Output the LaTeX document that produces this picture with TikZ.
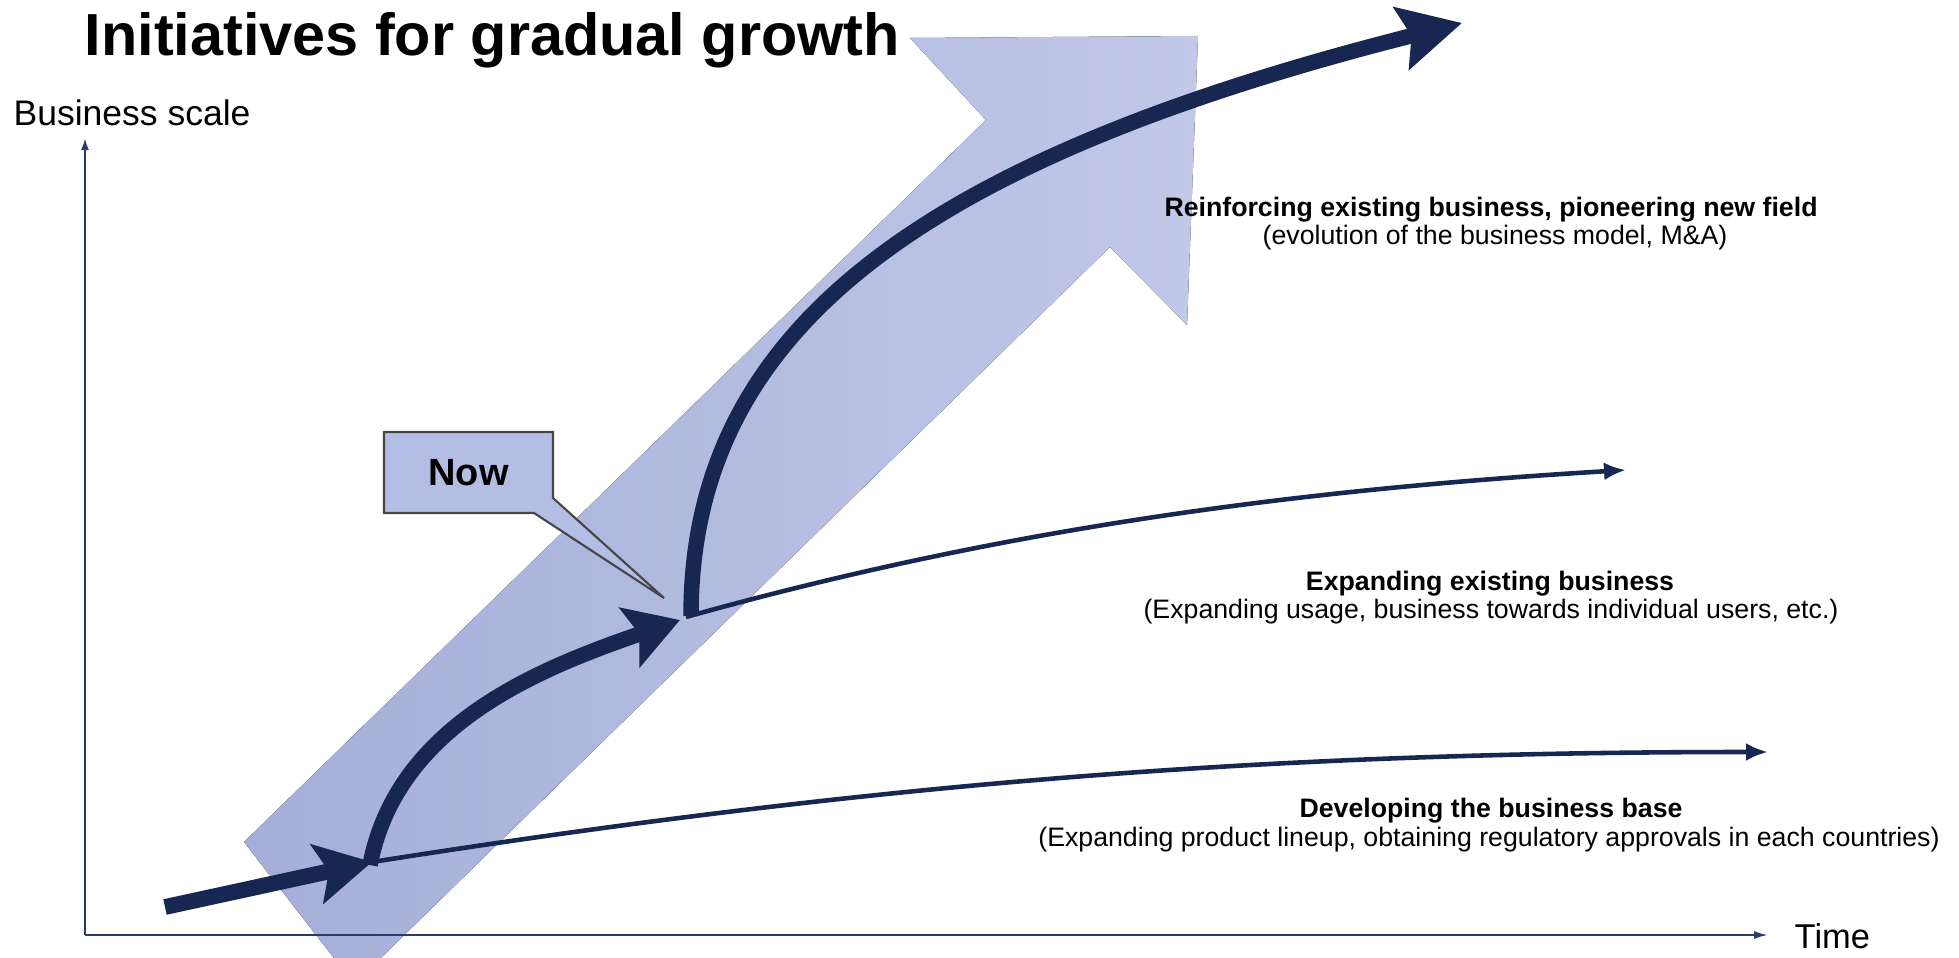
\documentclass[tikz,border=0pt]{standalone}
\usepackage{fontspec}
\setmainfont{Liberation Sans}
\usetikzlibrary{arrows.meta,calc}
\definecolor{navy}{RGB}{24,38,82}
\definecolor{axisc}{RGB}{46,58,105}
\definecolor{lightA}{RGB}{164,174,216}
\definecolor{lightB}{RGB}{193,200,232}
\definecolor{nowfill}{RGB}{180,189,227}
\definecolor{callborder}{RGB}{70,70,70}
\begin{document}
\begin{tikzpicture}[x=0.1mm,y=-0.1mm,
  axisline/.style={draw=axisc,line width=0.6pt},
  thinline/.style={draw=navy,line width=1.3pt,-{Latex[length=2.2mm,width=1.8mm]}},
  growth/.style={draw=navy,line width=4.4pt},
  lbl/.style={font=\fontsize{7.6}{9}\selectfont,anchor=base,inner sep=0pt},
  lblb/.style={lbl,font=\fontsize{7.6}{9}\selectfont\bfseries},
  axlab/.style={anchor=base west,inner sep=0pt,font=\fontsize{10.1}{12}\selectfont},
  callout/.style={fill=nowfill,draw=callborder,line width=0.6pt,line join=miter}
]
\useasboundingbox (0,0) rectangle (1959,958);

% big light arrow
\fill[left color=lightA,right color=lightB] (1198,36) -- (910,38) -- (986,120) -- (244,842) -- (354,984) -- (1110,247) -- (1187,325) -- cycle;

% axes
\coordinate (O) at (85,935);
\coordinate (ytop) at (85,138);
\coordinate (xend) at (1768,935);
\draw[axisline,-{Latex[length=1.2mm,width=0.8mm]}] (O) -- (ytop);
\draw[axisline,-{Latex[length=1.4mm,width=0.8mm]}] (O) -- (xend);
\node[axlab] (ylab) at (13,126) {Business scale};
\node[axlab,font=\fontsize{9.8}{12}\selectfont] (xlab) at (1794,948) {Time};

% title
\node[anchor=base west,inner sep=0pt,font=\fontsize{16.9}{20}\selectfont\bfseries] (title) at (84,56) {Initiatives for gradual growth};

% key points
\coordinate (s0) at (165,907);
\coordinate (j1) at (372,862);
\coordinate (j1b) at (370,865);
\coordinate (j2) at (680,620);
\coordinate (j2b) at (691,616);
\coordinate (j2c) at (686,617);
\coordinate (e1) at (1768,752);
\coordinate (e2) at (1626,470);
\coordinate (e3) at (1462,23);

% thin growth lines
\draw[thinline] (j1) .. controls (874,783) and (1268,752) .. (e1);
\draw[thinline] (j2c) .. controls (986,533) and (1276,491) .. (e2);

% Now callout
\coordinate (nowc) at (468.5,472.5);
\coordinate (nowtip) at (664,598);
\filldraw[callout] ($(nowc)+(-84.5,-40.5)$) -- ($(nowc)+(84.5,-40.5)$) -- ($(nowc)+(84.5,25.5)$) -- (nowtip) -- ($(nowc)+(65.5,40.5)$) -- ($(nowc)+(-84.5,40.5)$) -- cycle;
\node[inner sep=0pt,font=\fontsize{10.8}{13}\selectfont\bfseries] (now) at (nowc) {Now};

% thick dark arrows
\draw[growth,line width=4.5pt,-{Stealth[length=5.6mm,width=6mm,inset=1.2mm]}] (s0) -- (j1);
\draw[growth,-{Stealth[length=5.3mm,width=6.2mm,inset=1mm]}] (j1b) .. controls (397,725) and (538,669) .. (j2);
\draw[growth,-{Stealth[length=6.2mm,width=6.3mm,inset=1mm]}] (j2b) .. controls (691,330) and (920,160) .. (e3);

% labels
\node[lblb] (l3a) at (1491,217) {Reinforcing existing business, pioneering new field};
\node[lbl] (l3b) at (1495,245) {(evolution of the business model, M\&A)};
\node[lblb] (l2a) at (1490,590) {Expanding existing business};
\node[lbl] (l2b) at (1491,618) {(Expanding usage, business towards individual users, etc.)};
\node[lblb] (l1a) at (1491,817) {Developing the business base};
\node[lbl] (l1b) at (1489,846) {(Expanding product lineup, obtaining regulatory approvals in each countries)};
\end{tikzpicture}
\end{document}
